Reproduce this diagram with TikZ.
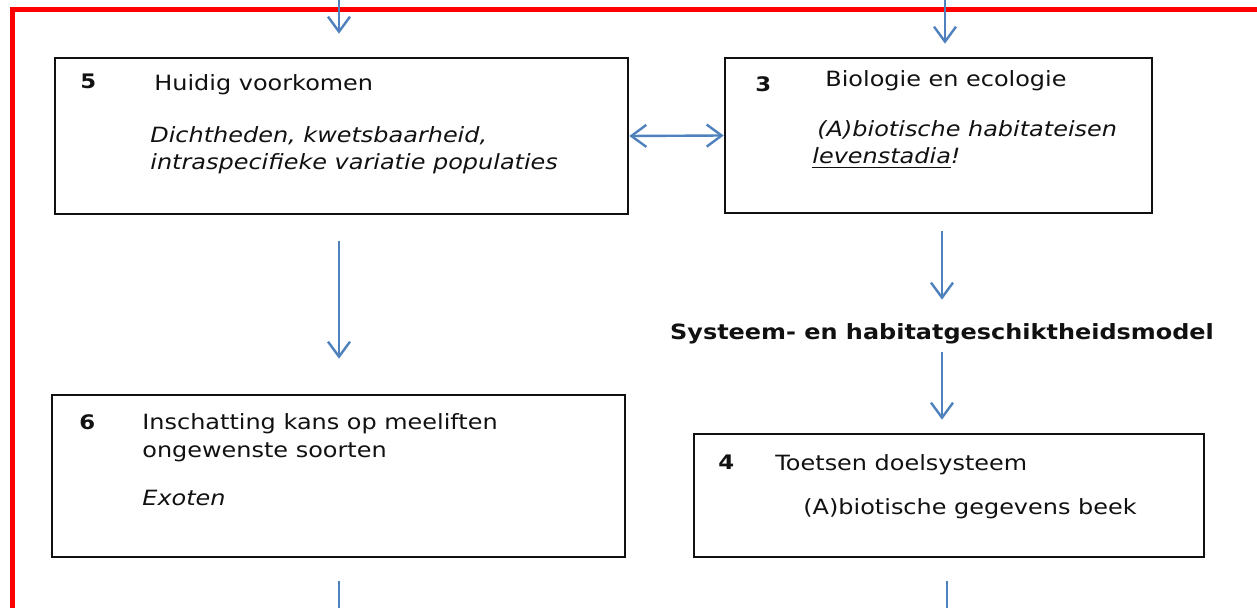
\documentclass[tikz,border=0pt]{standalone}
\usepackage{fontspec}
\setmainfont{DejaVu Sans}[FakeStretch=1.14]
\usepackage{xcolor}
\usepackage{tikz}
\usetikzlibrary{arrows.meta}
\definecolor{ink}{HTML}{111111}
\definecolor{frameRed}{HTML}{FF0000}
\definecolor{flowBlue}{HTML}{4F81BD}
\tikzset{
  box/.style={draw=ink, line width=1.3pt, inner sep=0pt},
  frame/.style={draw=frameRed, line width=2.5pt},
  link/.style={draw=flowBlue, line width=1.2pt},
  flow/.style={link, -{Straight Barb[length=7.5pt,width=11pt]}},
  flowboth/.style={link, {Straight Barb[length=7.5pt,width=11pt]}-{Straight Barb[length=7.5pt,width=11pt]}},
  t/.style={inner sep=0pt, anchor=base west, font=\fontsize{10.5}{13.5}\selectfont, text=ink},
  ti/.style={t, font=\fontsize{10.5}{13.5}\selectfont\itshape},
  tnum/.style={t, font=\fontsize{10}{12}\selectfont\bfseries},
  tb/.style={t, anchor=base, font=\fontsize{10.5}{13.5}\selectfont\bfseries},
}
\begin{document}
\begin{tikzpicture}[x=0.5pt, y=-0.5pt]
  \clip (0,0) rectangle (1257,608);
  \draw[frame] (12.5,9.5) rectangle (1275,625);

  \coordinate (inL) at (339,-2);
  \coordinate (inR) at (945,-2);
  \coordinate (colL) at (339,0);
  \coordinate (colR) at (942,0);
  \coordinate (outL) at (339,612);
  \coordinate (outR) at (947,612);

  \node[box, minimum width=286.5pt, minimum height=78pt] (box5) at (341.5,136) {};
  \node[tnum] (n5) at (80,89) {5};
  \node[t] (h5) at (154,91) {Huidig voorkomen};
  \node[ti] (d5a) at (150,143) {Dichtheden, kwetsbaarheid,};
  \node[ti] (d5b) at (150,170) {intraspecifieke variatie populaties};

  \node[box, minimum width=213.5pt, minimum height=77.5pt] (box3) at (938.5,135.5) {};
  \node[tnum] (n3) at (755,92) {3};
  \node[t] (h3) at (825,87) {Biologie en ecologie};
  \node[ti] (d3a) at (817,137) {(A)biotische habitateisen};
  \node[ti] (d3b) at (812,164) {\underline{levenstadia}!};

  \node[tb] (model) at (942,340) {Systeem- en habitatgeschiktheidsmodel};

  \node[box, minimum width=286.5pt, minimum height=81pt] (box6) at (338.5,476) {};
  \node[tnum] (n6) at (79,430) {6};
  \node[t] (h6a) at (142,430) {Inschatting kans op meeliften};
  \node[t] (h6b) at (142,458) {ongewenste soorten};
  \node[ti] (d6) at (142,505) {Exoten};

  \node[box, minimum width=255pt, minimum height=61.5pt] (box4) at (949,495.5) {};
  \node[tnum] (n4) at (718,470) {4};
  \node[t] (h4) at (775,471) {Toetsen doelsysteem};
  \node[t] (d4) at (803,515) {(A)biotische gegevens beek};

  \draw[flow, shorten >=11.5pt] (inL) -- (box5.north -| inL);
  \draw[flow, shorten >=6.5pt] (inR) -- (box3.north -| inR);
  \draw[flowboth] (box5.east) -- (box3.west);
  \draw[flow, shorten <=13pt, shorten >=17.5pt] (box5.south -| colL) -- (box6.north -| colL);
  \draw[flow, shorten <=8.5pt, shorten >=12pt] (box3.south -| colR) -- (model.north -| colR);
  \draw[flow, shorten <=3.5pt, shorten >=6.5pt] (model.south -| colR) -- (box4.north -| colR);
  \draw[link, shorten <=11.5pt] (box6.south -| outL) -- (outL);
  \draw[link, shorten <=11.5pt] (box4.south -| outR) -- (outR);
\end{tikzpicture}
\end{document}
